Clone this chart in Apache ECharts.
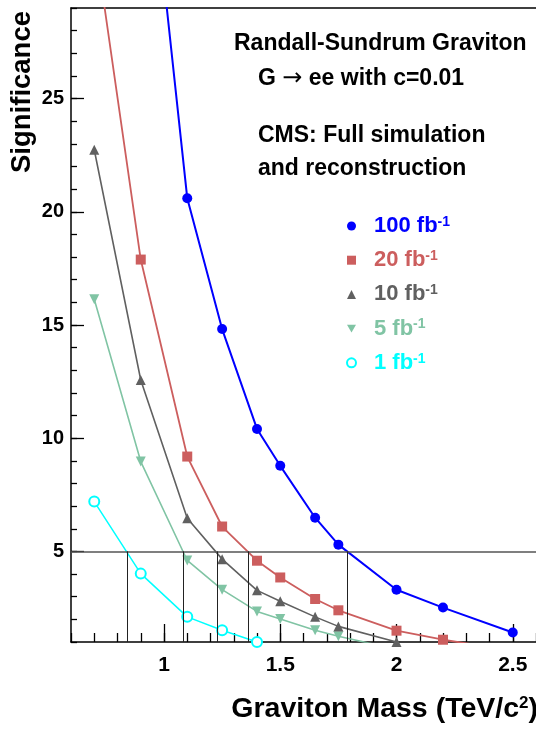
<!DOCTYPE html>
<html>
<head>
<meta charset="utf-8">
<title>RS Graviton significance</title>
<script src="https://cdn.jsdelivr.net/npm/echarts@6/dist/echarts.min.js"></script>
<style>
html, body { margin: 0; padding: 0; background: #fff; }
#main { width: 536px; height: 730px; }
</style>
</head>
<body>
<div id="main"></div>
<script>
// graviton masses (TeV/c^2) shared by all curves
var masses = [0.7, 0.9, 1.1, 1.25, 1.4, 1.5, 1.65, 1.75, 2.0, 2.2, 2.5];

// significance per integrated luminosity (null = not drawn)
var sig100 = [72, 39.7, 20.6, 14.82, 10.41, 8.78, 6.49, 5.3, 3.31, 2.52, 1.42];
var sig20  = [32.2, 17.89, 9.19, 6.1, 4.59, 3.85, 2.9, 2.4, 1.5, 1.1, 0.62];
var sig10  = [22.74, 12.57, 6.47, 4.66, 3.28, 2.8, 2.11, 1.69, 1.0, null, null];
var sig5   = [16.14, 8.97, 4.6, 3.31, 2.35, 2.02, 1.52, 1.25, 0.68, null, null];
var sig1   = [7.2, 4.02, 2.11, 1.52, 1.0, null, null, null, null, null, null];

var lumiNames = ['100', '20', '10', '5', '1'];

// 5 sigma line and where each curve crosses it
var threshold = 5;
var crossMass = [0.84, 1.083, 1.229, 1.361, 1.79];

var xMajor = [1, 1.5, 2, 2.5];
var yMajor = [5, 10, 15, 20, 25];

var FONT = '"Liberation Sans", Arial, Helvetica, sans-serif';
var DOWN_TRI = 'path://M0,0L10,0L5,8.66Z';

function pairs(vals) {
    var out = [];
    for (var i = 0; i < masses.length; i++) {
        if (vals[i] !== null) out.push([masses[i], vals[i]]);
    }
    return out;
}

function curve(name, vals, color, symbol, size, width) {
    return {
        type: 'line',
        name: name,
        data: pairs(vals),
        symbol: symbol,
        symbolSize: size,
        clip: true,
        silent: true,
        lineStyle: { color: color, width: width },
        itemStyle: { color: color, borderWidth: 0 }
    };
}

function label(x, y, text) {
    return {
        type: 'text', x: x, y: y,
        style: { text: text, fontFamily: FONT, fontWeight: 'bold', fontSize: 23, fill: '#000',
            verticalAlign: 'middle', textVerticalAlign: 'middle',
            rich: {
                t: { fontFamily: FONT, fontWeight: 'bold', fontSize: 23, fill: '#000' },
                ar: { fontFamily: '"DejaVu Sans"', fontSize: 24, fill: '#000' }
            }
        }
    };
}

var chart = echarts.init(document.getElementById('main'));

// vertical drop lines from the 5 sigma level
var markData = [{ yAxis: threshold, lineStyle: { color: '#555', width: 1.5 } }];
crossMass.forEach(function (m) {
    markData.push([{ coord: [m, 1] }, { coord: [m, threshold] }]);
});

var cyan = curve('1', sig1, '#00ffff', 'emptyCircle', 10, 1.5);
cyan.itemStyle = { color: '#00ffff', borderColor: '#00ffff', borderWidth: 1.2 };
cyan.markLine = {
    silent: true,
    symbol: 'none',
    label: { show: false },
    lineStyle: { color: '#222', width: 1, type: 'solid' },
    data: markData
};

var option = {
    animation: false,
    backgroundColor: '#fff',
    grid: { left: 71, right: 0, top: 8, bottom: 88 },
    xAxis: [{
        type: 'value', min: 0.6, max: 2.6, position: 'bottom',
        axisLine: { show: true, lineStyle: { color: '#000', width: 1.5 } },
        axisTick: { show: true, inside: true, length: 18, customValues: xMajor, lineStyle: { color: '#000', width: 1.3 } },
        axisLabel: { customValues: xMajor, fontSize: 21, margin: 13, fontFamily: FONT, fontWeight: 'bold', color: '#000' },
        splitLine: { show: false }
    }, {
        type: 'value', min: 0.6, max: 2.6, interval: 0.1, position: 'bottom',
        axisLine: { show: false },
        axisTick: { show: true, inside: true, length: 9, lineStyle: { color: '#000', width: 1.3 } },
        axisLabel: { show: false },
        splitLine: { show: false }
    }, {
        type: 'value', min: 0.6, max: 2.6, position: 'top',
        axisLine: { show: true, lineStyle: { color: '#000', width: 1.5 } },
        axisTick: { show: false },
        axisLabel: { show: false },
        splitLine: { show: false }
    }],
    yAxis: [{
        type: 'value', min: 1, max: 29, position: 'left',
        axisLine: { show: true, lineStyle: { color: '#000', width: 1.5 } },
        axisTick: { show: true, inside: true, length: 13, customValues: yMajor, lineStyle: { color: '#000', width: 1.3 } },
        axisLabel: { customValues: yMajor, fontSize: 20, margin: 7, fontFamily: FONT, fontWeight: 'bold', color: '#000' },
        splitLine: { show: false }
    }, {
        type: 'value', min: 1, max: 29, interval: 1, position: 'left',
        axisLine: { show: false },
        axisTick: { show: true, inside: true, length: 6, lineStyle: { color: '#000', width: 1.3 } },
        axisLabel: { show: false },
        splitLine: { show: false }
    }],
    legend: {
        orient: 'vertical',
        left: 341,
        top: 210,
        itemWidth: 9,
        itemHeight: 9,
        itemGap: 12.2,
        selectedMode: false,
        data: [
            { name: '100', icon: 'circle', textStyle: { color: '#0000ff' } },
            { name: '20', icon: 'rect', textStyle: { color: '#cc5e5e' } },
            { name: '10', icon: 'triangle', textStyle: { color: '#606060' } },
            { name: '5', icon: DOWN_TRI, textStyle: { color: '#80c4a4' } },
            { name: '1', icon: 'emptyCircle', textStyle: { color: '#00ffff' } }
        ],
        formatter: function (name) {
            return '{v|' + name + ' fb}{s|-1}';
        },
        textStyle: {
            fontFamily: FONT, fontWeight: 'bold', fontSize: 22,
            padding: [0, 0, 0, 13],
            rich: {
                v: { fontFamily: FONT, fontWeight: 'bold', fontSize: 22, lineHeight: 22 },
                s: { fontFamily: FONT, fontWeight: 'bold', fontSize: 14, verticalAlign: 'top' }
            }
        }
    },
    graphic: [
        {
            type: 'text', x: 22, y: 92, rotation: Math.PI / 2,
            style: { text: 'Significance', fontFamily: FONT, fontWeight: 'bold', fontSize: 27.5, fill: '#000',
                align: 'center', verticalAlign: 'middle', textAlign: 'center', textVerticalAlign: 'middle' }
        },
        {
            type: 'text', x: 538, y: 709,
            style: {
                text: '{a|Graviton Mass (TeV/c}{s|2}{a|)}',
                fill: '#000', align: 'right', verticalAlign: 'middle', textAlign: 'right', textVerticalAlign: 'middle',
                rich: {
                    a: { fontFamily: FONT, fontWeight: 'bold', fontSize: 28.5, fill: '#000' },
                    s: { fontFamily: FONT, fontWeight: 'bold', fontSize: 17, fill: '#000', verticalAlign: 'top' }
                }
            }
        },
        label(234, 44, 'Randall-Sundrum Graviton'),
        label(258, 79, '{t|G }{ar|\u2192}{t| ee with c=0.01}'),
        label(258, 136, 'CMS: Full simulation'),
        label(258, 169, 'and reconstruction')
    ],
    series: [
        cyan,
        curve('5', sig5, '#80c4a4', DOWN_TRI, 10, 1.6),
        curve('10', sig10, '#606060', 'triangle', 10, 1.6),
        curve('20', sig20, '#cc5e5e', 'rect', 10, 1.8),
        curve('100', sig100, '#0000ff', 'circle', 10, 2)
    ]
};

chart.setOption(option);
</script>
</body>
</html>
